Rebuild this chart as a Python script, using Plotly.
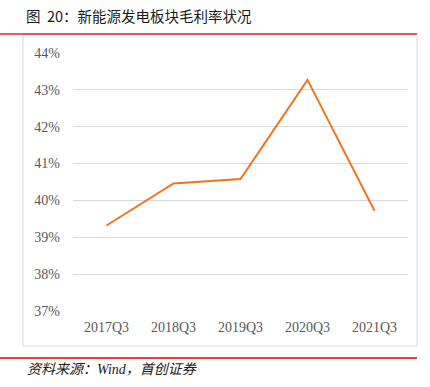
import plotly.graph_objects as go

categories = ["2017Q3", "2018Q3", "2019Q3", "2020Q3", "2021Q3"]
gross_margin = [39.32, 40.46, 40.58, 43.27, 39.72]
y_ticks = [37, 38, 39, 40, 41, 42, 43, 44]
y_tick_labels = [f"{v}%" for v in y_ticks]

W, H = 430, 387
L, R, T, B = 73, 22, 53, 76
pw, ph = W - L - R, H - T - B

def px(x):
    return (x - L) / pw

def py(y):
    return (H - B - y) / ph

fig = go.Figure()
fig.add_trace(go.Scatter(
    x=categories, y=gross_margin, mode="lines",
    line=dict(color="#F0741E", width=2),
    hoverinfo="skip", showlegend=False,
))

tick_font = dict(family="Liberation Serif", size=14, color="#595959")

fig.update_layout(
    width=W, height=H,
    margin=dict(l=L, r=R, t=T, b=B),
    paper_bgcolor="white", plot_bgcolor="white",
    xaxis=dict(
        type="category", range=[-0.5, 4.5],
        showgrid=False, showline=False, zeroline=False,
        ticks="", tickfont=tick_font, ticklabelstandoff=6,
    ),
    yaxis=dict(
        range=[37, 44], tickvals=y_ticks, ticktext=y_tick_labels,
        showgrid=True, gridcolor="#D9D9D9", gridwidth=1,
        showline=False, zeroline=False, ticks="",
        tickfont=tick_font, ticklabelstandoff=12,
    ),
    shapes=[
        dict(type="rect", xref="paper", yref="paper",
             x0=px(23), x1=px(417), y0=py(346), y1=py(34),
             line=dict(color="#D9D9D9", width=1), layer="below"),
        dict(type="line", xref="paper", yref="paper",
             x0=px(0), x1=px(417), y0=py(34), y1=py(34),
             line=dict(color="#D92B2B", width=1.5)),
        dict(type="line", xref="paper", yref="paper",
             x0=px(0), x1=px(417), y0=py(358), y1=py(358),
             line=dict(color="#E00000", width=1.5)),
    ],
    annotations=[
        dict(text="图&nbsp;&nbsp;20：新能源发电板块毛利率状况", xref="paper", yref="paper",
             x=px(24), y=py(16), xanchor="left", yanchor="middle",
             showarrow=False,
             font=dict(family="Noto Sans CJK SC", size=14.5, color="#1a1a1a")),
        dict(text="<i>资料来源：Wind，首创证券</i>", xref="paper", yref="paper",
             x=px(25), y=py(369), xanchor="left", yanchor="middle",
             showarrow=False,
             font=dict(family="Liberation Serif, Noto Sans CJK SC", size=14, color="#1a1a1a")),
    ],
)

fig.write_html("out.html", config={"displayModeBar": False})
with open("out.html", "r", encoding="utf-8") as f:
    html = f.read()
html = html.replace("<body>", '<body style="margin:0;padding:0;">', 1)
with open("out.html", "w", encoding="utf-8") as f:
    f.write(html)
